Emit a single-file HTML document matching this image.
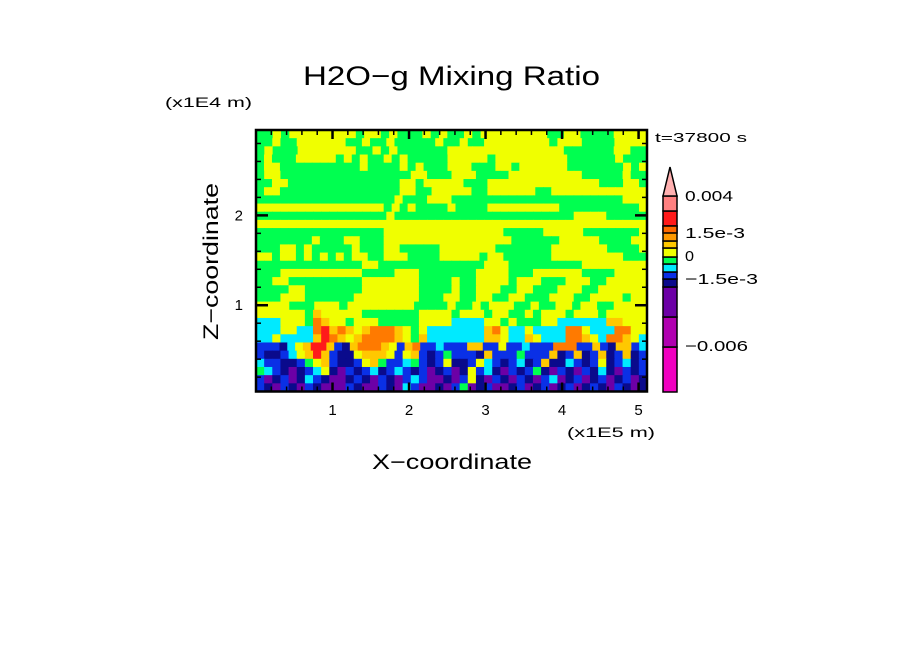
<!DOCTYPE html>
<html><head><meta charset="utf-8"><style>
body{margin:0;background:#fff;}
svg{display:block;font-family:"Liberation Sans",sans-serif;}
</style></head><body>
<svg id="chart" width="904" height="654" viewBox="0 0 904 654" xmlns="http://www.w3.org/2000/svg">
<rect width="904" height="654" fill="#fff"/>
<text x="303" y="85" textLength="297" lengthAdjust="spacingAndGlyphs" font-size="27">H2O−g Mixing Ratio</text>
<text x="165" y="107" textLength="87" lengthAdjust="spacingAndGlyphs" font-size="14">(x1E4 m)</text>
<text x="567" y="437" textLength="88" lengthAdjust="spacingAndGlyphs" font-size="14">(x1E5 m)</text>
<text x="372" y="469" textLength="160" lengthAdjust="spacingAndGlyphs" font-size="21">X−coordinate</text>
<text transform="translate(218,340) rotate(-90)" textLength="157" lengthAdjust="spacingAndGlyphs" font-size="21">Z−coordinate</text>
<text x="655" y="142" textLength="92" lengthAdjust="spacingAndGlyphs" font-size="13">t=37800 s</text>
<g id="heat"></g>
<g id="axes"></g>
<g id="cbar"></g>
</svg>
<script>
// ---- data ----
const levelKeys = ['P','M','p','n','b','c','g','y','a','o','r','s'];
const levelColors = ['#f000c0','#b000b0','#6c00a6','#0a0a8c','#0a30e6','#00eaff','#00ff50','#f0ff00','#ffc800','#ff7a00','#ff1a1a','#ff8080'];
const gridRows = [
"ggygyyyyyyyygyygygggygyggygyyyyyyyyggyyggggyyyy",
"ggyggyyyyyyggygg ygggggyggyggyyyyyyyygyyyggggyyyy",
"gyggg yyyyyyyggygygggggg yyyyyyyyyyyyyyggggggyygg",
"gyggg yyyyygygyggygygggggyyyyygyyyyyyyyyggggggyggg",
"gyyggggggggggyggggygyggg yyygggyygyyyyyygggggggygy",
"gyyggggggggggggggggyygggyyyggggyyyyyyyyygggggygg",
"ggyyggggggggggggggyygyyyyyggg yyyyyyyyyyyyyygggyyg",
"gyygggggggggggggggyyggyyyyyggyyyyyyggyyyyyyyyyyyy",
"gggggggggggggggggygggyyygggggggggggggggggggggyyy",
"yyyyyyyyyyyyyyyygygygggg yggggyyyyyyyyyggggggggggy",
"ggggggggggggggggyggggggggggggggggggggggyyyyggggg",
"yyyyyyyyyyyyyyyyyyyyyyyyyyyyyyyyyyyyyyyyyyyyyyyy",
"ggggggggggggggggyyyyyyyyyyyyyyygggggyyyyygggggggy",
"gggggggyggg yyggg yyyyyyyyyyyyyyyyggggggyyyyyggggyy",
"gggyygyggggg yggg yygggggyyyyyyy gggggggyyyyyyyggggy",
"yyg yygygygygyyg gyyyg ggg yyyyygyyggggggyyyyyyyyyggg",
"gggggggggggggyyggggggggggggg yyygggggggggyyyyyyyy",
"gggyyyyyyyyyyggggyyygggggggyyyygggyyyyyyggggyyyy",
"ggyyggggggggg yyyyyyyggggyggyyyygyyygggyyyggyyyyy",
"ggggyyggggggg yyyyyyyggggyggyyyggyyggg yyyggyyyyyy",
"gggyyyggggggyyyyyyyygggyyggyyggyygggyyyggyyyygyy",
"yyyygggyyygyyyyyyyyggggyggygyyygg ygg yyg yyggyyyy",
"yyyyyygayyyyygggggggyyyygyyygyyggygyyygyyygyyyyy",
"cccyyygoayygyyygggggyyyyccccyygyggg yycccccc aayyy",
"cccyyccoraoayaoooaygyccccccc aoycc yccccooyccc ooyy",
"ccyccccaroayaooooaygaccccccc aayccaycccooaycooayc",
"bbbncyarrabnaoooaybaobbcbbbaabbybbcbbbooobbabnaabc",
"bnnbcyarabnnyaaaybyabnbgbbbnabbbgbbbanbanbanbanb",
"cbbnnbgyabnnbyagbbcgbnbynnbycbnbcnbanncbnbynbcnb",
"gcbnpnbcynpbnbcnbcbnbpnbpnybcnpbnbgnpbnpbncnpbnb",
"bpnbpncbnppnbnpbnpbcbppnpbynpbnpbnpbcpnbpnbpnbpn",
"bnpbnpbnpppbnppbnpcbppnpbgpnbppnbpnbpnbpnbnpbnpn"
];
const cbarLabels = ['0.004','1.5e-3','0','−1.5e-3','−0.006'];
const cbarLabelWidths = [48,60,9,73,63];
const xTickLabels = ['1','2','3','4','5'];
const xTickValues = [1,2,3,4,5];
const yTickLabels = ['1','2'];
const yTickValues = [1,2];

// ---- geometry ----
const NS='http://www.w3.org/2000/svg';
const L=256,R=647,T=130,B=391.5;
const xMin=0,xMax=5.11,zMin=0.04,zMax=2.95;
const xs=v=>L+(v-xMin)/(xMax-xMin)*(R-L);
const zs=v=>B-(v-zMin)/(zMax-zMin)*(B-T);
function mk(tag,attrs,parent){const e=document.createElementNS(NS,tag);for(const k in attrs)e.setAttribute(k,attrs[k]);parent.appendChild(e);return e;}

// heatmap
const heat=document.getElementById('heat');
const rows=gridRows.map(r=>r.replace(/\s/g,''));
const nR=rows.length;
rows.forEach((row,ri)=>{
  const nC=row.length;const cw=(R-L)/nC;const ch=(B-T)/nR;
  for(let ci=0;ci<nC;ci++){
    const li=levelKeys.indexOf(row[ci]);
    const c=mk('rect',{x:(L+ci*cw).toFixed(2),y:(T+ri*ch).toFixed(2),width:(cw+0.6).toFixed(2),height:(ch+0.6).toFixed(2),fill:levelColors[li<0?6:li]},heat);
    
    
  }
});

// axes
const ax=document.getElementById('axes');
const frame=mk('rect',{x:L,y:T,width:R-L,height:B-T,fill:'none',stroke:'#000','stroke-width':2.5},ax);


for(let v=0.2;v<xMax;v+=0.2){
  const major=Math.abs(v-Math.round(v))<0.01;const len=major?9:5;const x=xs(v);
  mk('line',{x1:x,x2:x,y1:B,y2:B-len,stroke:'#000','stroke-width':major?2.5:1.5},ax);
  mk('line',{x1:x,x2:x,y1:T,y2:T+len,stroke:'#000','stroke-width':major?2.5:1.5},ax);
}
for(let v=0.2;v<zMax;v+=0.2){
  const major=Math.abs(v-Math.round(v))<0.01;const len=major?12:5;const y=zs(v);
  mk('line',{x1:L,x2:L+len,y1:y,y2:y,stroke:'#000','stroke-width':major?2.5:1.5},ax);
  mk('line',{x1:R,x2:R-len,y1:y,y2:y,stroke:'#000','stroke-width':major?2.5:1.5},ax);
}
xTickValues.forEach((v,i)=>{
  const t=mk('text',{x:xs(v),y:415,'text-anchor':'middle','font-size':15},ax);t.textContent=xTickLabels[i];
  
  
});
yTickValues.forEach((v,i)=>{
  const t=mk('text',{x:243,y:zs(v)+5,'text-anchor':'end','font-size':15},ax);t.textContent=yTickLabels[i];
  
  
});

// colorbar
const cb=document.getElementById('cbar');
const segTops=[347,317,287,279,272,264,257,248,241,226,211,196];
const segBots=[392,347,317,287,279,272,264,257,248,241,226,211];
const segColors=['#f000c0','#b000b0','#6c00a6','#0a0a8c','#0a30e6','#00eaff','#00ff50','#f0ff00','#ffc800','#ff9900','#ff1a1a','#ff8080'];
segColors.forEach((col,k)=>{
  const s=mk('rect',{x:663,y:segTops[k],width:14,height:segBots[k]-segTops[k],fill:col,stroke:'#000','stroke-width':1.5},cb);
  
  
});
mk('rect',{x:663,y:226,width:14,height:7,fill:'#ff6a00',stroke:'#000','stroke-width':1.5},cb);
const tri=mk('polygon',{points:'663,196 677,196 670,167',fill:'#ffb0b0',stroke:'#000','stroke-width':1.5},cb);


const labY=[201,238,261,284,351];
cbarLabels.forEach((s,i)=>{
  const t=mk('text',{x:685,y:labY[i],'font-size':15,textLength:cbarLabelWidths[i],lengthAdjust:'spacingAndGlyphs'},cb);t.textContent=s;
  
  
});
</script>
</body></html>
